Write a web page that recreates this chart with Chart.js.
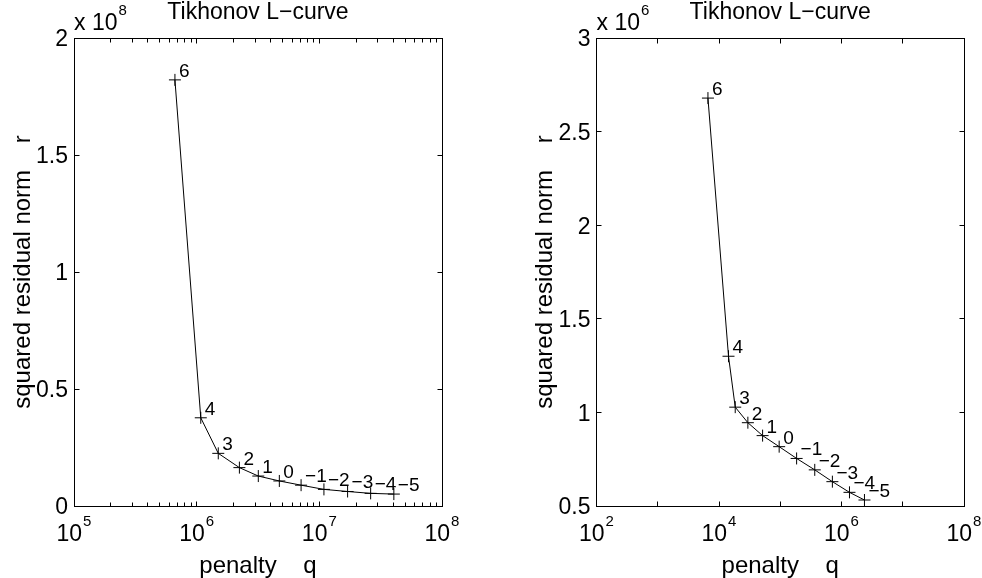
<!DOCTYPE html>
<html>
<head>
<meta charset="utf-8">
<script src="https://cdn.jsdelivr.net/npm/chart.js@4/dist/chart.umd.min.js"></script>
<style>
  body { margin: 0; background: #fff; }
  #wrap { position: relative; width: 982px; height: 578px; overflow: hidden; }
  canvas { position: absolute; top: 0; }
</style>
</head>
<body>
<div id="wrap">
  <canvas id="left" width="491" height="578" style="left:0"></canvas>
  <canvas id="right" width="491" height="578" style="left:491px"></canvas>
</div>
<script>
// regularisation order shown next to each point
const orders = [6, 4, 3, 2, 1, 0, -1, -2, -3, -4, -5];

// left panel
const penaltyA = [6.65e5, 1.08e6, 1.50e6, 2.23e6, 3.18e6, 4.72e6, 7.1e6, 1.09e7, 1.70e7, 2.62e7, 4.05e7];
const residualA = [1.821e8, 0.377e8, 0.225e8, 0.164e8, 0.128e8, 0.107e8, 0.089e8, 0.071e8, 0.062e8, 0.054e8, 0.051e8];
const xTicksA = [1e5, 1e6, 1e7, 1e8];
const xLabelExpA = [5, 6, 7, 8];
const yTicksA = [0, 0.5e8, 1e8, 1.5e8, 2e8];
const yLabelsA = ['0', '0.5', '1', '1.5', '2'];

// right panel
const penaltyB = [6.6e3, 1.43e4, 1.84e4, 2.96e4, 5.15e4, 9.6e4, 1.85e5, 3.66e5, 7.1e5, 1.35e6, 2.37e6];
const residualB = [2.679e6, 1.300e6, 1.028e6, 0.945e6, 0.876e6, 0.817e6, 0.754e6, 0.693e6, 0.630e6, 0.573e6, 0.532e6];
const xTicksB = [1e2, 1e3, 1e4, 1e5, 1e6, 1e7, 1e8];
const xLabelExpB = [2, null, 4, null, 6, null, 8];
const yTicksB = [0.5e6, 1e6, 1.5e6, 2e6, 2.5e6, 3e6];
const yLabelsB = ['0.5', '1', '1.5', '2', '2.5', '3'];

const FONT = "'Liberation Sans', Arial, sans-serif";

function fmtOrder(n) {
    return n < 0 ? '\u2212' + Math.abs(n) : String(n);
}

// draws the matlab style box, inside ticks and all the texts
function framePlugin(o) {
    return {
        id: 'frame',
        afterDraw(chart) {
            const ctx = chart.ctx;
            const a = chart.chartArea;
            const xs = chart.scales.x, ys = chart.scales.y;
            const L = Math.floor(a.left) + 0.5, R = Math.floor(a.right) + 0.5;
            const T = Math.floor(a.top) + 0.5, B = Math.floor(a.bottom) + 0.5;
            ctx.save();
            ctx.strokeStyle = '#000';
            ctx.fillStyle = '#000';
            ctx.lineWidth = 1;
            ctx.strokeRect(L, T, R - L, B - T);

            ctx.beginPath();
            const xt = (v, len) => {
                const px = Math.floor(xs.getPixelForValue(v)) + 0.5;
                ctx.moveTo(px, B); ctx.lineTo(px, B - len);
                ctx.moveTo(px, T); ctx.lineTo(px, T + len);
            };
            o.xTicks.forEach(v => xt(v, 5));
            if (o.minor) {
                for (let i = 0; i < o.xTicks.length - 1; i++) {
                    for (let k = 2; k <= 9; k++) xt(o.xTicks[i] * k, 4);
                }
            }
            o.yTicks.forEach(v => {
                const py = Math.floor(ys.getPixelForValue(v)) + 0.5;
                ctx.moveTo(L, py); ctx.lineTo(L + 5, py);
                ctx.moveTo(R, py); ctx.lineTo(R - 5, py);
            });
            ctx.stroke();

            // y tick labels
            ctx.font = '23px ' + FONT;
            ctx.textAlign = 'right';
            ctx.textBaseline = 'alphabetic';
            o.yTicks.forEach((v, i) => {
                ctx.fillText(o.yLabels[i], a.left - 6, ys.getPixelForValue(v) + 8.3);
            });

            // x tick labels 10^n
            o.xTicks.forEach((v, i) => {
                const e = o.xExp[i];
                if (e === null) return;
                const px = xs.getPixelForValue(v);
                ctx.font = '23px ' + FONT;
                const w1 = ctx.measureText('10').width;
                ctx.font = '15px ' + FONT;
                const w2 = ctx.measureText(String(e)).width;
                const x0 = px - (w1 + w2 + 1) / 2;
                ctx.textAlign = 'left';
                ctx.font = '23px ' + FONT;
                ctx.fillText('10', x0, 541);
                ctx.font = '15px ' + FONT;
                ctx.fillText(String(e), x0 + w1 + 1, 526);
            });

            // exponent multiplier
            ctx.textAlign = 'left';
            ctx.font = '23px ' + FONT;
            const wx = ctx.measureText('x 10').width;
            ctx.fillText('x 10', a.left, 30);
            ctx.font = '15px ' + FONT;
            ctx.fillText(String(o.mult), a.left + wx + 1, 15);

            // title
            ctx.font = '23px ' + FONT;
            ctx.textAlign = 'center';
            const cx = (a.left + a.right) / 2;
            ctx.fillText('Tikhonov L\u2212curve', cx, 19);

            // x axis label
            ctx.font = '24px ' + FONT;
            ctx.fillText('penalty    q', cx, 573);

            // y axis label
            ctx.save();
            ctx.translate(o.yLabelX, (a.top + a.bottom) / 2);
            ctx.rotate(-Math.PI / 2);
            ctx.fillText('squared residual norm    r', 0, 0);
            ctx.restore();

            // point labels
            const meta = chart.getDatasetMeta(0);
            ctx.font = '19px ' + FONT;
            ctx.textAlign = 'left';
            meta.data.forEach((pt, i) => {
                ctx.fillText(fmtOrder(orders[i]), pt.x + 4, pt.y - 3);
            });
            ctx.restore();
        }
    };
}

function makeChart(id, px, py, xMin, xMax, yMin, yMax, padding, o) {
    const pts = px.map((p, i) => ({ x: p, y: py[i] }));
    return new Chart(document.getElementById(id), {
        type: 'scatter',
        data: {
            datasets: [{
                data: pts,
                showLine: true,
                borderColor: '#000',
                backgroundColor: '#000',
                borderWidth: 1,
                pointStyle: 'cross',
                pointRadius: 6,
                pointBorderColor: '#000',
                pointBorderWidth: 1,
                tension: 0
            }]
        },
        options: {
            responsive: false,
            animation: false,
            devicePixelRatio: 1,
            events: [],
            layout: { padding },
            plugins: { legend: { display: false }, tooltip: { enabled: false } },
            scales: {
                x: { type: 'logarithmic', min: xMin, max: xMax, display: false },
                y: { type: 'linear', min: yMin, max: yMax, display: false }
            }
        },
        plugins: [framePlugin(o)]
    });
}

makeChart('left', penaltyA, residualA, 1e5, 1e8, 0, 2e8,
    { left: 74, right: 49, top: 38, bottom: 72 },
    { xTicks: xTicksA, xExp: xLabelExpA, yTicks: yTicksA, yLabels: yLabelsA, minor: true, mult: 8, yLabelX: 30 });

makeChart('right', penaltyB, residualB, 1e2, 1e8, 0.5e6, 3e6,
    { left: 105.5, right: 18, top: 38, bottom: 72 },
    { xTicks: xTicksB, xExp: xLabelExpB, yTicks: yTicksB, yLabels: yLabelsB, minor: false, mult: 6, yLabelX: 61 });
</script>
</body>
</html>
